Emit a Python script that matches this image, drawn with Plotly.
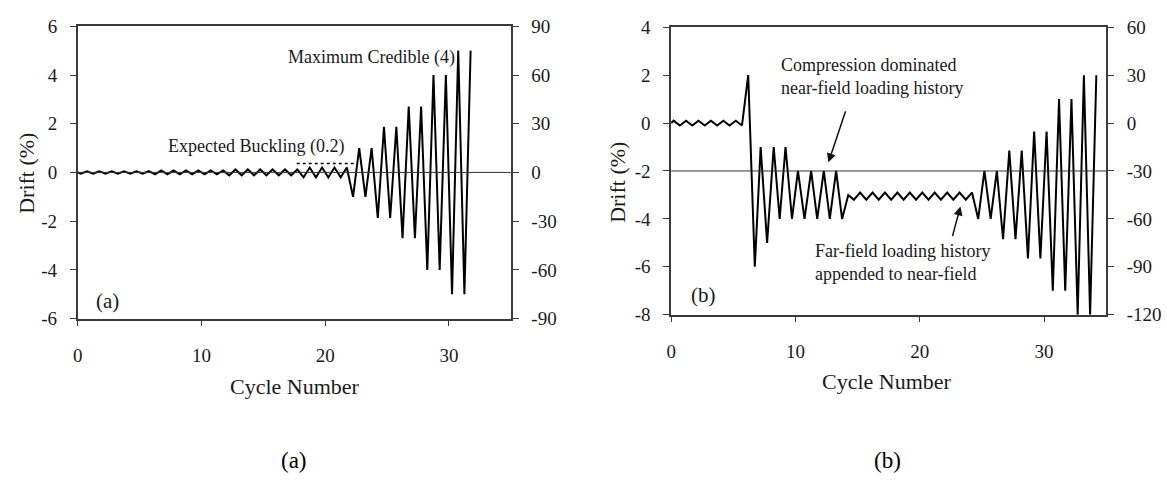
import plotly.graph_objects as go

# ---------------- data ----------------
# (a) standard far-field loading history: turning points (cycle number, drift %)
cycle_a = [0, 0.25, 0.75, 1.25, 1.75, 2.25, 2.75, 3.25, 3.75, 4.25, 4.75, 5.25, 5.75,
           6.25, 6.75, 7.25, 7.75, 8.25, 8.75, 9.25, 9.75, 10.25, 10.75, 11.25, 11.75,
           12.25, 12.75, 13.25, 13.75, 14.25, 14.75, 15.25, 15.75, 16.25, 16.75, 17.25, 17.75,
           18.25, 18.75, 19.25, 19.75, 20.25, 20.75, 21.25, 21.75,
           22.25, 22.75, 23.25, 23.75, 24.25, 24.75, 25.25, 25.75, 26.25, 26.75, 27.25, 27.75,
           28.25, 28.75, 29.25, 29.75, 30.25, 30.75, 31.25, 31.75]
drift_a = [0, -0.05, 0.05, -0.05, 0.05, -0.05, 0.05, -0.05, 0.05, -0.05, 0.05, -0.05, 0.05,
           -0.08, 0.08, -0.08, 0.08, -0.08, 0.08, -0.08, 0.08, -0.08, 0.08, -0.08, 0.08,
           -0.12, 0.12, -0.12, 0.12, -0.12, 0.12, -0.12, 0.12, -0.12, 0.12, -0.12, 0.12,
           -0.2, 0.2, -0.2, 0.2, -0.2, 0.2, -0.2, 0.2,
           -1.0, 1.0, -1.0, 1.0, -1.87, 1.87, -1.87, 1.87, -2.7, 2.7, -2.7, 2.7,
           -4.0, 4.0, -4.0, 4.0, -5.0, 5.0, -5.0, 5.0]

# (b) compression dominated near-field history with far-field history appended
cycle_b = [0, 0.2, 0.7, 1.2, 1.7, 2.2, 2.7, 3.2, 3.7, 4.2, 4.7, 5.2, 5.7,
           6.2, 6.73, 7.2, 7.72, 8.25, 8.73, 9.2, 9.72, 10.2, 10.73, 11.26, 11.75,
           12.28, 12.76, 13.27, 13.75,
           14.25, 14.7, 15.2, 15.7, 16.2, 16.7, 17.2, 17.7, 18.2, 18.7, 19.2, 19.7,
           20.2, 20.7, 21.2, 21.7, 22.2, 22.7, 23.2, 23.7, 24.2,
           24.7, 25.2, 25.7, 26.2, 26.7, 27.2, 27.7, 28.2, 28.7, 29.2, 29.7, 30.2,
           30.7, 31.2, 31.7, 32.2, 32.7, 33.2, 33.7, 34.2]
drift_b = [0, 0.1, -0.1, 0.1, -0.1, 0.1, -0.1, 0.1, -0.1, 0.1, -0.1, 0.1, -0.1,
           2.0, -6.0, -1.0, -5.0, -1.0, -4.0, -1.0, -4.0, -2.0, -4.0, -2.0, -4.0,
           -2.0, -4.0, -2.0, -4.0,
           -3.0, -3.2, -2.9, -3.2, -2.9, -3.2, -2.9, -3.2, -2.9, -3.2, -2.9, -3.2,
           -2.9, -3.2, -2.9, -3.2, -2.9, -3.2, -2.9, -3.2, -2.9,
           -4.0, -2.0, -4.0, -2.0, -4.85, -1.15, -4.85, -1.15, -5.65, -0.35, -5.65, -0.35,
           -7.0, 1.0, -7.0, 1.0, -8.0, 2.0, -8.0, 2.0]

# axis ticks
cycle_range = [0, 35]
cycle_ticks = [0, 10, 20, 30]
drift_ticks_a = [-6, -4, -2, 0, 2, 4, 6]
disp_ticks_a = [-90, -60, -30, 0, 30, 60, 90]
drift_ticks_b = [-8, -6, -4, -2, 0, 2, 4]
disp_ticks_b = [-120, -90, -60, -30, 0, 30, 60]
disp_per_drift = 15          # right-hand axis units per 1 % drift

reference_a = 0
reference_b = -2
buckling_span = [17.7, 22.3]
buckling_mark = 0.37

W, H = 1167, 503
SERIF = "Liberation Serif, Times New Roman, serif"
AXC = "#3a3a3a"
TXT = "#1a1a1a"


def px(x):
    return x / W


def py(y):
    return 1 - y / H


def labels(vals):
    # plain hyphen-minus for negative numbers
    return [str(v) for v in vals]


fig = go.Figure()

fig.add_trace(go.Scatter(x=cycle_a, y=drift_a, mode="lines",
                         line=dict(color="black", width=2),
                         xaxis="x", yaxis="y", showlegend=False, hoverinfo="skip"))
fig.add_trace(go.Scatter(x=buckling_span, y=[buckling_mark] * 2, mode="lines",
                         line=dict(color="black", width=1.5, dash="dot"),
                         xaxis="x", yaxis="y", showlegend=False, hoverinfo="skip"))
fig.add_trace(go.Scatter(x=cycle_b, y=drift_b, mode="lines",
                         line=dict(color="black", width=2),
                         xaxis="x2", yaxis="y3", showlegend=False, hoverinfo="skip"))
# same histories expressed on the right-hand displacement axes (kept invisible)
fig.add_trace(go.Scatter(x=cycle_a, y=[d * disp_per_drift for d in drift_a], mode="lines",
                         line=dict(color="black", width=0), opacity=0,
                         xaxis="x", yaxis="y2", showlegend=False, hoverinfo="skip"))
fig.add_trace(go.Scatter(x=cycle_b, y=[d * disp_per_drift for d in drift_b], mode="lines",
                         line=dict(color="black", width=0), opacity=0,
                         xaxis="x2", yaxis="y4", showlegend=False, hoverinfo="skip"))

tickfont = dict(family=SERIF, size=19, color=TXT)


def xax(domain, anchor):
    return dict(domain=domain, anchor=anchor, range=cycle_range, tickvals=cycle_ticks,
                ticktext=labels(cycle_ticks),
                showgrid=False, zeroline=False, showline=True, linecolor=AXC, linewidth=1.5,
                mirror=True, ticks="outside", ticklen=6, tickwidth=1.2, tickcolor=AXC,
                ticklabelstandoff=13, tickfont=tickfont, fixedrange=True)


def yax(domain, anchor, ticks, side="left", overlaying=None):
    d = dict(domain=domain, anchor=anchor, range=[ticks[0], ticks[-1]],
             tickvals=ticks, ticktext=labels(ticks), side=side,
             showgrid=False, zeroline=False, showline=True, linecolor=AXC, linewidth=1.5,
             ticks="outside", ticklen=6, tickwidth=1.2, tickcolor=AXC,
             ticklabelstandoff=9, tickfont=tickfont, fixedrange=True)
    if overlaying:
        d["overlaying"] = overlaying
    return d


dom_xa = [px(73), px(508)]
dom_ya = [py(322), py(17)]
dom_xb = [px(669), px(1106)]
dom_yb = [py(318), py(18)]

fig.update_layout(
    width=W, height=H,
    margin=dict(l=0, r=0, t=0, b=0),
    paper_bgcolor="white", plot_bgcolor="white",
    xaxis=xax(dom_xa, "y"),
    yaxis=yax(dom_ya, "x", drift_ticks_a),
    yaxis2=yax(dom_ya, "x", disp_ticks_a, side="right", overlaying="y"),
    xaxis2=xax(dom_xb, "y3"),
    yaxis3=yax(dom_yb, "x2", drift_ticks_b),
    yaxis4=yax(dom_yb, "x2", disp_ticks_b, side="right", overlaying="y3"),
)

# horizontal reference lines
fig.add_shape(type="line", xref="x domain", yref="y", x0=0, x1=1,
              y0=reference_a, y1=reference_a, line=dict(color="#333", width=1))
fig.add_shape(type="line", xref="x2 domain", yref="y3", x0=0, x1=1,
              y0=reference_b, y1=reference_b, line=dict(color="#333", width=1))

annfont = dict(family=SERIF, size=18, color=TXT)
tagfont = dict(family=SERIF, size=21, color=TXT)
titlefont = dict(family=SERIF, size=22, color=TXT)

ann = []
# panel (a) notes
ann.append(dict(x=16.8, y=4.7, xref="x", yref="y", text="Maximum Credible (4)",
                showarrow=False, xanchor="left", yanchor="middle", font=annfont))
ann.append(dict(x=7.1, y=1.08, xref="x", yref="y", text="Expected Buckling (0.2)",
                showarrow=False, xanchor="left", yanchor="middle", font=annfont))
ann.append(dict(x=1.35, y=-5.26, xref="x", yref="y", text="(a)",
                showarrow=False, xanchor="left", yanchor="middle", font=tagfont))
# panel (b) notes
ann.append(dict(x=8.7, y=1.93, xref="x2", yref="y3",
                text="Compression dominated<br>near-field loading history",
                showarrow=False, xanchor="left", yanchor="middle", align="left", font=annfont))
ann.append(dict(x=12.65, y=-1.64, xref="x2", yref="y3", ax=14.07, ay=0.56,
                axref="x2", ayref="y3", text="", showarrow=True, arrowhead=2,
                arrowsize=1.2, arrowwidth=1.5, arrowcolor="#111"))
ann.append(dict(x=11.4, y=-5.83, xref="x2", yref="y3",
                text="Far-field loading history<br>appended to near-field",
                showarrow=False, xanchor="left", yanchor="middle", align="left", font=annfont))
ann.append(dict(x=23.27, y=-3.48, xref="x2", yref="y3", ax=22.6, ay=-4.78,
                axref="x2", ayref="y3", text="", showarrow=True, arrowhead=2,
                arrowsize=1.2, arrowwidth=1.5, arrowcolor="#111"))
ann.append(dict(x=1.4, y=-7.18, xref="x2", yref="y3", text="(b)",
                showarrow=False, xanchor="left", yanchor="middle", font=tagfont))


def paper_text(x, y, text, font, angle=0):
    return dict(x=px(x), y=py(y), xref="paper", yref="paper", text=text,
                textangle=angle, showarrow=False, xanchor="center", yanchor="middle",
                font=font)


# axis titles
ann.append(paper_text(22, 170, "Drift (%)", titlefont, -90))
ann.append(paper_text(291, 393, "Cycle Number", titlefont))
ann.append(paper_text(615, 180, "Drift (%)", titlefont, -90))
ann.append(paper_text(886, 388, "Cycle Number", titlefont))

# sub-figure captions
capfont = dict(family=SERIF, size=23, color="black")
ann.append(paper_text(290, 470, "(a)", capfont))
ann.append(paper_text(886, 470, "(b)", capfont))

fig.update_layout(annotations=ann)

fig.write_html("out.html")
